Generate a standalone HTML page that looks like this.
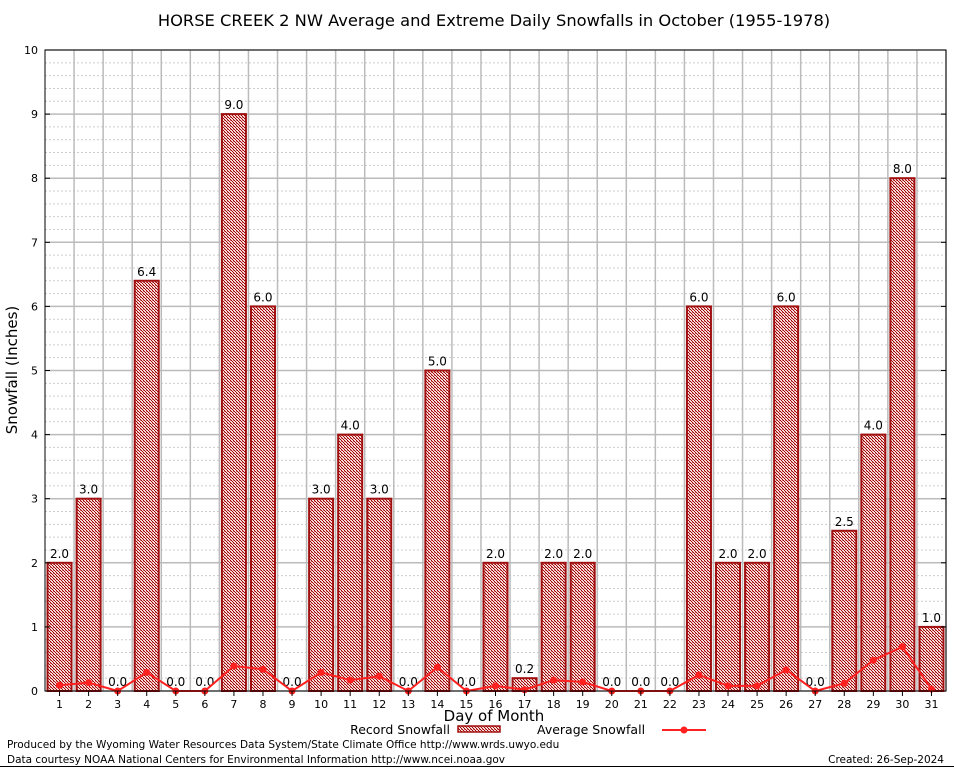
<!DOCTYPE html>
<html><head><meta charset="utf-8"><style>
body{margin:0;background:#fff;}
svg text{font-family:"DejaVu Sans","Liberation Sans",sans-serif;}
</style></head><body>
<svg id="chart" width="954" height="768" viewBox="0 0 954 768" xmlns="http://www.w3.org/2000/svg">
<defs>
<pattern id="hatch" width="3" height="3" patternUnits="userSpaceOnUse">
<rect width="3" height="3" fill="#f6dada"/>
<rect width="1" height="1" fill="#a00000"/>
<rect x="1" y="1" width="1" height="1" fill="#a00000"/>
<rect x="2" y="2" width="1" height="1" fill="#a00000"/>
<rect x="2" y="0" width="1" height="1" fill="#d07070"/>
</pattern>
</defs>
<rect x="0" y="0" width="954" height="768" fill="#fff"/>
<text x="494" y="26" font-size="16.3" text-anchor="middle">HORSE CREEK 2 NW Average and Extreme Daily Snowfalls in October (1955-1978)</text>
<g id="grid"></g>
<g id="bars"></g>
<g id="avg"></g>
<rect x="45" y="50" width="901" height="641" fill="none" stroke="#000" stroke-width="1"/>
<g id="axes"></g>
<text x="17" y="370" font-size="15" text-anchor="middle" transform="rotate(-90 17 370)">Snowfall (Inches)</text>
<text x="494" y="721" font-size="15" text-anchor="middle">Day of Month</text>
<g>
<text x="450" y="734" font-size="12.5" text-anchor="end">Record Snowfall</text>
<rect x="458" y="726" width="42" height="6" fill="url(#hatch)" stroke="#a01010" stroke-width="1.5"/>
</g>
<g>
<text x="537" y="734" font-size="12.5">Average Snowfall</text>
<line x1="662" y1="730" x2="706" y2="730" stroke="#ff2020" stroke-width="2"/>
<circle cx="684" cy="730" r="3.5" fill="#ff2020"/>
</g>
<text x="7" y="748" font-size="10.5">Produced by the Wyoming Water Resources Data System/State Climate Office http://www.wrds.uwyo.edu</text>
<text x="7" y="763" font-size="10.5">Data courtesy NOAA National Centers for Environmental Information http://www.ncei.noaa.gov</text>
<text x="944" y="763" font-size="10.5" text-anchor="end">Created: 26-Sep-2024</text>
<line x1="0" y1="766.5" x2="954" y2="766.5" stroke="#000" stroke-width="1"/>
</svg>
<script>
const days = [1,2,3,4,5,6,7,8,9,10,11,12,13,14,15,16,17,18,19,20,21,22,23,24,25,26,27,28,29,30,31];
const recordSnow = [2.0,3.0,0.0,6.4,0.0,0.0,9.0,6.0,0.0,3.0,4.0,3.0,0.0,5.0,0.0,2.0,0.2,2.0,2.0,0.0,0.0,0.0,6.0,2.0,2.0,6.0,0.0,2.5,4.0,8.0,1.0];
const avgSnow = [0.09,0.13,0.0,0.29,0.0,0.0,0.39,0.34,0.0,0.29,0.17,0.23,0.0,0.37,0.0,0.08,0.02,0.17,0.14,0.0,0.0,0.0,0.25,0.08,0.08,0.33,0.0,0.12,0.48,0.69,0.03];
const yTicks = [0,1,2,3,4,5,6,7,8,9,10];

const NS="http://www.w3.org/2000/svg";
const L=45,R=946,T=50,B=691;
const step=(R-L)/31;
function x(d){return L+step*(d-0.5);}
function y(v){return B-(v/10)*(B-T);}
function mk(tag,attrs,parent){const e=document.createElementNS(NS,tag);for(const k in attrs)e.setAttribute(k,attrs[k]);parent.appendChild(e);return e;}
const grid=document.getElementById('grid'),bars=document.getElementById('bars'),avg=document.getElementById('avg'),axes=document.getElementById('axes');
for(let v=0;v<=10.001;v+=0.2){
  const major=Math.abs(v-Math.round(v))<1e-6;
  const ln=mk('line',{x1:L,x2:R,y1:y(v),y2:y(v),stroke:major?'#bbb':'#ccc','stroke-width':major?1.5:1,'stroke-dasharray':major?'':'2,2'},grid);
  
  
}
days.forEach(d=>{
  const ln=mk('line',{x1:x(d)+step/2,x2:x(d)+step/2,y1:T,y2:B,stroke:'#bbb','stroke-width':1.5},grid);
  
  
});
yTicks.forEach(v=>{
  const t=mk('text',{x:L-7,y:y(v)+4,'font-size':11,'text-anchor':'end','font-family':'Liberation Serif, serif'},axes);
  t.textContent=String(v);
  
  
  mk('line',{x1:L,x2:L+5,y1:y(v),y2:y(v),stroke:'#000'},axes);
  mk('line',{x1:R,x2:R-5,y1:y(v),y2:y(v),stroke:'#000'},axes);
});
const bw=24;
days.forEach((d,i)=>{
  const v=recordSnow[i];
  if(v>0){
    const r=mk('rect',{x:x(d)-bw/2,y:y(v),width:bw,height:B-y(v),fill:'url(#hatch)',stroke:'#a01010','stroke-width':2},bars);
    
    
  }
  const t=mk('text',{x:x(d),y:y(v)-5,'font-size':12,'text-anchor':'middle'},bars);
  t.textContent=v.toFixed(1);
  
  
  const xl=mk('text',{x:x(d),y:B+17,'font-size':11,'text-anchor':'middle','font-family':'Liberation Serif, serif'},axes);
  xl.textContent=String(d);
  
  
  mk('line',{x1:x(d),x2:x(d),y1:B,y2:B+5,stroke:'#000'},axes);
});
const pts=days.map((d,i)=>x(d)+','+y(avgSnow[i])).join(' ');
const pl=mk('polyline',{points:pts,fill:'none',stroke:'#ff2020','stroke-width':2},avg);


days.forEach((d,i)=>{
  const c=mk('circle',{cx:x(d),cy:y(avgSnow[i]),r:3.5,fill:'#ff2020'},avg);
  
  
});
</script>
</body></html>
